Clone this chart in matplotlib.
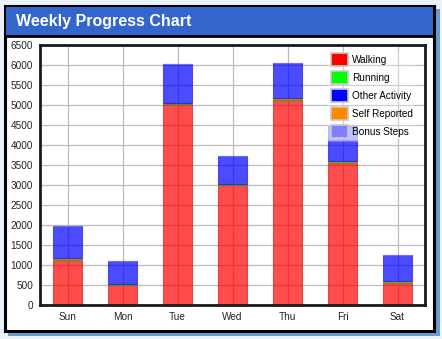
import matplotlib
matplotlib.use("Agg")
import matplotlib.pyplot as plt
from matplotlib.patches import Rectangle
import numpy as np

days = ["Sun", "Mon", "Tue", "Wed", "Thu", "Fri", "Sat"]
walking = [1130, 500, 5020, 3010, 5130, 3550, 550]
running = [20, 15, 20, 10, 25, 20, 20]
self_reported = [30, 20, 20, 10, 25, 20, 25]
other_activity = [800, 575, 965, 695, 870, 500, 655]
bonus_steps = [0, 0, 0, 0, 0, 385, 0]
y_ticks = list(range(0, 6501, 500))

series = [
    ("Walking", walking, "#ff0000", "#cc2222"),
    ("Running", running, "#00ff00", "#22aa22"),
    ("Self Reported", self_reported, "#ff8800", "#cc7722"),
    ("Other Activity", other_activity, "#0000ff", "#2222cc"),
    ("Bonus Steps", bonus_steps, "#8080ff", "#8080ff"),
]
legend_order = ["Walking", "Running", "Other Activity", "Self Reported", "Bonus Steps"]

plt.rcParams['font.family'] = ['Liberation Sans', 'DejaVu Sans']
W, H = 442, 339
fig = plt.figure(figsize=(W / 100, H / 100), dpi=100)
fig.patch.set_facecolor("#eaf1f9")

def px(x, y, w, h):
    return (x / W, 1 - (y + h) / H, w / W, h / H)

# shadow
sx, sy, sw, sh = px(8, 9, 432, 327)
fig.add_artist(Rectangle((sx, sy), sw, sh, transform=fig.transFigure,
                         facecolor="#6b9bd0", edgecolor="none", zorder=0))
# panel
bx, by, bw, bh = px(5, 6, 429, 325)
fig.add_artist(Rectangle((bx, by), bw, bh, transform=fig.transFigure,
                         facecolor="white", edgecolor="black", linewidth=2.2, zorder=1))
# title bar
tx, ty, tw, th = px(6, 7, 427, 29)
fig.add_artist(Rectangle((tx, ty), tw, th, transform=fig.transFigure,
                         facecolor="#3366cc", edgecolor="none", zorder=2))
lx, ly, lw, lh = px(5, 36, 429, 0.01)
fig.add_artist(plt.Line2D([lx, lx + lw], [ly, ly], transform=fig.transFigure,
                          color="black", linewidth=2, zorder=3))
fig.text(16 / W, 1 - 21.5 / H, "Weekly Progress Chart", color="white",
         fontsize=11.5, fontweight="bold", va="center", ha="left", zorder=4)

ax = fig.add_axes(px(40, 45, 385, 260))
ax.set_zorder(5)
x = np.arange(len(days)) + 0.5
bottom = np.zeros(len(days))
for name, vals, col, ec in series:
    v = np.array(vals, dtype=float)
    ax.bar(x, v, width=0.53, bottom=bottom, color=col, alpha=0.7,
           edgecolor=ec, linewidth=0.8, zorder=2)
    bottom += v

ax.set_xlim(0, 7)
ax.set_ylim(0, 6500)
ax.set_xticks(x)
ax.set_xticklabels(days)
ax.set_yticks(y_ticks)
ax.set_yticklabels([str(t) for t in y_ticks])
ax.tick_params(length=0, labelsize=7.2, colors="#222222", pad=5)
ax.tick_params(axis="y", pad=5)
ax.grid(True, color="#bbbbbb", linewidth=0.9, zorder=0)
ax.set_axisbelow(True)
for s in ax.spines.values():
    s.set_linewidth(2)
    s.set_color("#1a1a1a")

cmap = {n: c for n, _, c, _ in series}
handles = [Rectangle((0, 0), 1, 1, facecolor=cmap[n], edgecolor="#c8c8c8", linewidth=1.2)
           for n in legend_order]
leg = ax.legend(handles, legend_order, loc="upper left",
                bbox_to_anchor=(328 / W, 1 - 51 / H), bbox_transform=fig.transFigure,
                fontsize=7.2, frameon=True, framealpha=0.3, edgecolor="none",
                facecolor="white", handlelength=1.7, handleheight=1.5,
                handletextpad=0.45, labelspacing=0.58, borderpad=0.25,
                borderaxespad=0)
leg.set_zorder(10)

fig.savefig("out.png", dpi=100, facecolor=fig.get_facecolor())
